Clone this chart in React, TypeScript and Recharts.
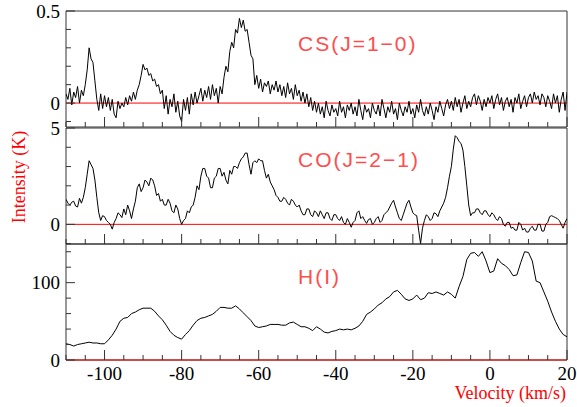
import { LineChart, Line, XAxis, YAxis, ReferenceLine, ReferenceArea } from 'recharts';

// channel grids (km/s)
const csStart = -110;
const csStep = 0.5;
const coStart = -110;
const coStep = 0.5;
const hiStart = -110;
const hiStep = 1;

// CS(J=1-0), K, one value per 0.5 km/s from -110 to 20
const csIntensity = [
  0.05, 0.02, 0.08, -0.01, 0.06, 0.03, 0.09, 0.0, 0.07, 0.04,
  0.1, 0.18, 0.3, 0.24, 0.22, 0.12, 0.02, -0.04, 0.05, -0.03,
  0.04, -0.02, 0.03, -0.04, 0.02, -0.06, -0.08, 0.01, -0.03, 0.0,
  -0.02, 0.03, -0.01, 0.04, 0.01, 0.06, 0.02, 0.07, 0.1, 0.15,
  0.21, 0.18, 0.19, 0.15, 0.16, 0.12, 0.13, 0.09, 0.1, 0.05,
  0.07, -0.03, 0.04, -0.06, 0.02, -0.02, 0.05, -0.05, 0.01, -0.07,
  -0.1, 0.02, -0.04, 0.03, -0.06, 0.05, -0.01, 0.06, 0.0, 0.04,
  0.08, 0.01, 0.07, 0.03, 0.09, 0.02, 0.1, 0.04, 0.08, 0.0,
  0.09, 0.05, 0.14, 0.2, 0.17, 0.28, 0.33, 0.3, 0.4, 0.38,
  0.46, 0.41, 0.45, 0.39, 0.4, 0.33, 0.26, 0.24, 0.1, 0.15,
  0.08, 0.13, 0.06, 0.11, 0.09, 0.12, 0.05, 0.1, 0.07, 0.12,
  0.06, 0.1, 0.04, 0.09, 0.03, 0.11, 0.05, 0.08, 0.02, 0.1,
  0.04, 0.07, 0.01, 0.06, 0.0, 0.05, -0.02, 0.03, -0.04, 0.01,
  -0.05, 0.0, -0.06, -0.02, -0.08, 0.01, -0.04, -0.07, -0.01, -0.05,
  -0.03, -0.07, 0.01, -0.05, -0.02, -0.08, -0.01, -0.04, 0.0, -0.06,
  -0.02, -0.07, 0.02, -0.04, -0.09, -0.01, -0.05, -0.03, -0.08, 0.0,
  -0.04, -0.06, -0.01, -0.07, 0.02, -0.03, -0.08, -0.02, -0.05, 0.01,
  -0.06, -0.03, -0.09, 0.0, -0.04, -0.07, -0.02, -0.05, 0.01, -0.06,
  -0.03, -0.08, -0.01, -0.05, 0.02, -0.04, -0.07, -0.02, -0.06, 0.0,
  -0.04, -0.09, -0.02, -0.05, 0.01, -0.03, -0.07, -0.01, 0.02, -0.03,
  0.01, -0.04, 0.03, -0.02, 0.02, -0.05, 0.0, 0.04, -0.03, 0.01,
  -0.02, 0.03, 0.05, -0.01, 0.04, 0.01, -0.04, 0.02, -0.02, 0.03,
  0.0, 0.04, -0.03, 0.02, 0.05, -0.01, 0.03, -0.04, 0.01, 0.03,
  -0.02, 0.02, -0.05, 0.03, 0.0, 0.05, -0.03, 0.01, 0.04, -0.02,
  0.03, 0.05, 0.0, 0.06, 0.02, 0.04, -0.01, 0.05, 0.03, -0.02,
  0.04, 0.01, -0.03, 0.05, 0.0, 0.04, -0.05, 0.02, 0.06, -0.04,
  0.06,
];

// CO(J=2-1), K, one value per 0.5 km/s from -110 to 20
const coIntensity = [
  1.3, 1.1, 1.0, 1.15, 1.2, 0.95, 0.9, 1.35, 1.1, 1.4,
  1.9, 2.6, 3.3, 3.1, 2.9, 2.3, 1.4, 0.6, 0.2, 0.45,
  0.4, 0.2, 0.1, 0.0, -0.25, 0.1, 0.3, 0.6, 0.5, 0.35,
  0.8, 0.5, 1.0, 0.7, 0.3, 0.8, 1.2, 1.9, 2.1, 1.7,
  1.9, 2.3, 2.2, 2.0, 2.4, 2.3, 2.0, 1.5, 1.6, 1.2,
  1.3, 1.0, 1.0, 1.3, 1.1, 0.7, 0.6, 1.0, 0.8, 0.3,
  0.0, 0.2, 0.3, 0.7, 0.6, 0.9, 1.0, 1.4, 2.0, 1.8,
  2.5, 2.9, 2.9, 2.5, 2.4, 1.9, 1.9, 2.4, 2.5, 2.9,
  2.9, 2.5, 2.7, 2.3, 2.1, 2.8, 2.6, 3.0, 3.0, 2.9,
  3.2, 3.4, 3.5, 3.7, 3.7, 3.1, 2.6, 3.2, 3.3, 3.2,
  3.4, 3.3, 3.3, 2.8, 2.4, 2.6, 2.2, 2.0, 1.8, 1.5,
  1.4, 1.2, 1.2, 1.4, 1.3, 1.1, 1.0, 1.3, 1.2, 1.0,
  0.9, 1.0, 0.7, 0.5, 0.5, 0.8, 0.8, 0.5, 0.4, 0.7,
  0.6, 0.4, 0.7, 0.5, 0.3, 0.6, 0.6, 0.3, 0.2, 0.5,
  0.5, 0.3, 0.2, 0.4, 0.1, 0.0, 0.3, 0.1, -0.15, 0.1,
  0.2, 0.6, 0.7, 0.3, 0.4, 0.2, 0.05, 0.25, 0.3, 0.0,
  0.1, 0.3, 0.4, 0.1, 0.2, 0.5, 0.6, 0.7, 0.9, 1.1,
  1.25, 0.9, 0.6, 0.3, 0.2, 0.5, 0.8, 1.1, 1.25, 0.9,
  0.6, 0.5, 0.45, -0.3, -1.0, -0.2, 0.2, 0.5, 0.4, 0.2,
  0.3, 0.6, 0.55, 0.4, 0.7, 0.9, 1.1, 1.4, 1.9, 2.5,
  3.0, 3.9, 4.6, 4.5, 4.3, 4.2, 3.85, 3.0, 2.0, 1.0,
  0.45, 0.6, 0.6, 0.8, 0.8, 0.6, 0.5, 0.7, 0.7, 0.5,
  0.4, 0.6, 0.5, 0.3, 0.2, 0.4, 0.3, 0.0, -0.1, 0.1,
  0.1, -0.2, -0.15, -0.3, -0.3, 0.1, 0.0, -0.3, -0.2, -0.4,
  -0.4, -0.2, -0.1, -0.3, -0.3, 0.0, 0.0, -0.35, -0.35, 0.0,
  0.1, 0.4, 0.45, 0.4, 0.35, 0.3, 0.2, 0.0, -0.2, 0.1,
  0.3,
];

// H(I), K, one value per km/s from -110 to 20
const hiIntensity = [
  21, 20, 18, 20, 21, 22, 23, 22, 22, 21,
  21, 26, 32, 40, 50, 54, 55, 60, 62, 65,
  67, 67, 67, 63, 57, 52, 45, 37, 32, 29,
  27, 33, 38, 45, 51, 54, 55, 57, 59, 63,
  68, 68, 67, 67, 70, 66, 61, 56, 51, 44,
  42, 43, 44, 46, 46, 46, 45, 45, 48, 49,
  46, 43, 43, 41, 38, 43, 40, 36, 35, 37,
  38, 40, 39, 40, 39, 41, 44, 50, 59, 62,
  66, 71, 74, 79, 82, 88, 90, 85, 79, 77,
  79, 84, 78, 80, 87, 86, 88, 86, 84, 88,
  85, 80, 95, 108, 130, 138, 139, 134, 140, 128,
  113, 115, 131, 125, 122, 117, 109, 110, 126, 140,
  139, 128, 102, 100, 88, 76, 62, 50, 40, 33,
  30,
];

const velocityTicks = [
  -110, -105, -100, -95, -90, -85, -80, -75, -70, -65, -60, -55, -50, -45,
  -40, -35, -30, -25, -20, -15, -10, -5, 0, 5, 10, 15, 20,
];
const velocityLabels = [-100, -80, -60, -40, -20, 0, 20];

const csTicks = [-0.1, 0, 0.1, 0.2, 0.3, 0.4, 0.5];
const csLabels = [0, 0.5];
const coTicks = [-1, 0, 1, 2, 3, 4, 5];
const coLabels = [0, 5];
const hiTicks = [0, 20, 40, 60, 80, 100, 120, 140];
const hiLabels = [0, 100];

const csData = csIntensity.map((k, i) => ({ v: csStart + i * csStep, k }));
const coData = coIntensity.map((k, i) => ({ v: coStart + i * coStep, k }));
const hiData = hiIntensity.map((k, i) => ({ v: hiStart + i * hiStep, k }));

const FRAME = '#333';
const serif = '"Liberation Serif", "Times New Roman", serif';
const sans = '"Liberation Sans", Arial, sans-serif';

function VelocityTick(props: any) {
  const { x, y, payload, showLabel } = props;
  const major = velocityLabels.includes(payload.value);
  return (
    <g>
      <line x1={x} x2={x} y1={y} y2={y - (major ? 10 : 5)} stroke={FRAME} />
      {showLabel && major && (
        <text x={x} y={y + 20} textAnchor="middle" fontFamily={serif} fontSize={19} fill="#000">
          {payload.value}
        </text>
      )}
    </g>
  );
}

function IntensityTick(props: any) {
  const { x, y, payload, labels } = props;
  const major = labels.includes(payload.value);
  return (
    <g>
      <line x1={x} x2={x + (major ? 9 : 5)} y1={y} y2={y} stroke={FRAME} />
      {major && (
        <text x={x - 6} y={y} dy="0.35em" textAnchor="end" fontFamily={serif} fontSize={19} fill="#000">
          {payload.value}
        </text>
      )}
    </g>
  );
}

function Panel(props: any) {
  const { data, top, bottom, yDomain, yTicks, yLabels, showX } = props;
  return (
    <div style={{ position: 'absolute', left: 0, top: 0 }}>
      <LineChart
        width={577}
        height={407}
        data={data}
        margin={{ top, right: 10, bottom: 407 - bottom - 20, left: 0 }}
      >
        <XAxis
          type="number"
          dataKey="v"
          domain={[-110, 20]}
          ticks={velocityTicks}
          interval={0}
          allowDataOverflow
          axisLine={false}
          tickLine={false}
          tickSize={0}
          tickMargin={0}
          height={20}
          tick={(p: any) => <VelocityTick {...p} showLabel={showX} />}
        />
        <YAxis
          type="number"
          domain={yDomain}
          ticks={yTicks}
          interval={0}
          allowDataOverflow
          axisLine={false}
          tickLine={false}
          tickSize={0}
          tickMargin={0}
          width={66}
          tick={(p: any) => <IntensityTick {...p} labels={yLabels} />}
        />
        <ReferenceArea
          x1={-110}
          x2={20}
          y1={yDomain[0]}
          y2={yDomain[1]}
          fill="none"
          fillOpacity={0}
          stroke={FRAME}
          strokeOpacity={1}
          ifOverflow="visible"
        />
        <ReferenceLine y={0} stroke="#ff0000" strokeWidth={1} />
        <Line
          type="linear"
          dataKey="k"
          stroke="#000"
          strokeWidth={1}
          dot={false}
          isAnimationActive={false}
        />
      </LineChart>
    </div>
  );
}

const labelStyle = {
  position: 'absolute' as const,
  left: 298,
  fontFamily: sans,
  fontSize: 21,
  lineHeight: '21px',
  letterSpacing: 2,
  color: '#ff4d4d',
  whiteSpace: 'nowrap' as const,
};

export default function App() {
  return (
    <div
      style={{
        position: 'absolute',
        left: 0,
        top: 0,
        width: 577,
        height: 407,
        background: '#fff',
        overflow: 'hidden',
      }}
    >
      <Panel data={csData} top={11} bottom={127} yDomain={[-0.13, 0.5]} yTicks={csTicks} yLabels={csLabels} showX={false} />
      <Panel data={coData} top={128} bottom={244} yDomain={[-1.02, 5]} yTicks={coTicks} yLabels={coLabels} showX={false} />
      <Panel data={hiData} top={244} bottom={360} yDomain={[0, 150]} yTicks={hiTicks} yLabels={hiLabels} showX />

      <div style={{ ...labelStyle, top: 33 }}>CS(J=1−0)</div>
      <div style={{ ...labelStyle, top: 149 }}>CO(J=2−1)</div>
      <div style={{ ...labelStyle, top: 266 }}>H(I)</div>

      <div
        style={{
          position: 'absolute',
          right: 11,
          top: 385,
          fontFamily: serif,
          fontSize: 18,
          lineHeight: '16px',
          color: '#ff0000',
          whiteSpace: 'nowrap',
        }}
      >
        Velocity (km/s)
      </div>
      <div
        style={{
          position: 'absolute',
          left: 18.5 - 100,
          top: 177 - 9,
          width: 200,
          height: 18,
          textAlign: 'center',
          fontFamily: serif,
          fontSize: 18,
          lineHeight: '18px',
          color: '#ff0000',
          transform: 'rotate(-90deg)',
          whiteSpace: 'nowrap',
        }}
      >
        Intensity (K)
      </div>
    </div>
  );
}
